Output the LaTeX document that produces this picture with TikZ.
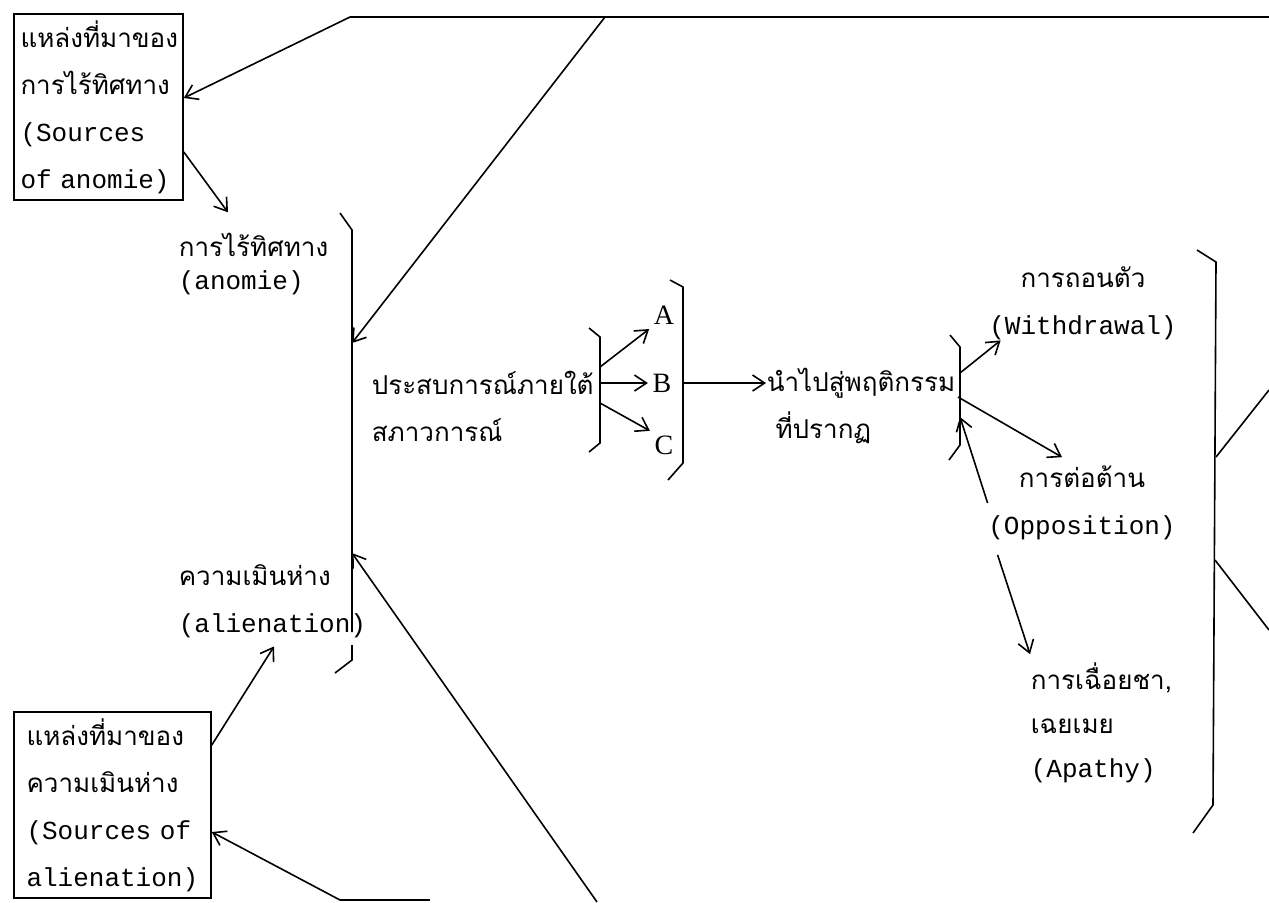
\documentclass[tikz,border=0pt]{standalone}
\usepackage{fontspec}
\setmainfont{Liberation Mono}
\newfontfamily\thai[Script=Thai]{Loma}
\newfontfamily\abcfont{Liberation Serif}
\usetikzlibrary{arrows.meta}
\begin{document}
\begin{tikzpicture}[x=0.5pt,y=-0.5pt,thick,>={Straight Barb[length=6pt,width=8pt]},
    txt/.style={inner sep=0pt,align=left,font=\fontsize{13}{23.5}\selectfont},
    srcbox/.style={txt,draw,minimum height=93pt},
    abc/.style={inner sep=2pt,font=\abcfont\fontsize{14}{16}\selectfont}]
    \useasboundingbox (0,0) rectangle (1269,902);
    \node[srcbox,minimum width=84.5pt,text width=78pt] (srcA) at (98.5,107){{\thai แหล่งที่มาของ}\\{\thai การไร้ทิศทาง}\\(Sources\\of anomie)};
    \node[srcbox,minimum width=98.5pt,text width=86pt] (srcL) at (112.5,805){{\thai แหล่งที่มาของ}\\{\thai ความเมินห่าง}\\(Sources of\\alienation)};
    \node[txt,anchor=west,font=\fontsize{13}{16.5}\selectfont] (anomie) at (178,264){{\thai การไร้ทิศทาง}\\(anomie)};
    \node[txt,anchor=west] (alien) at (178,601){{\thai ความเมินห่าง}\\(alienation)};
    \node[txt,anchor=west] (exper) at (371,406){{\thai ประสบการณ์ภายใต้}\\{\thai สภาวการณ์}};
    \node[abc] (optA) at (664,315){A};
    \node[abc] (optB) at (662,383){B};
    \node[abc] (optC) at (664,445){C};
    \node[txt,anchor=west] (lead) at (766,406){{\thai นำไปสู่พฤติกรรม}\\{\thai\ ที่ปรากฏ}};
    \node[txt,align=center] (withdr) at (1083,303){{\thai การถอนตัว}\\(Withdrawal)};
    \node[txt,align=center] (oppos) at (1082,503){{\thai การต่อต้าน}\\(Opposition)};
    \node[txt,anchor=west,font=\fontsize{13}{22}\selectfont] (apathy) at (1030,723){{\thai การเฉื่อยชา,}\\{\thai เฉยเมย}\\(Apathy)};
    \draw(340,213)--(352,230)--(352,632) (352,645)--(352,660)--(335,673);
    \draw(589,328)--(600,337)--(600,443)--(589,452);
    \draw(670,280)--(683,287)--(683,463)--(668,480);
    \draw(950,335)--(960,347)--(960,445)--(949,460);
    \draw(1197,250)--(1216,262)--(1213,805)--(1193,833);
    \coordinate (topL) at (350,17);
    \coordinate (topM) at (605,17);
    \coordinate (topR) at (1269,17);
    \coordinate (botL) at (340,900);
    \coordinate (botM) at (597,902);
    \coordinate (botR) at (430,900);
    \coordinate (anoIn) at (352,343);
    \coordinate (alIn) at (352,553);
    \coordinate (expA) at (600,367);
    \coordinate (expB) at (600,383);
    \coordinate (expC) at (600,403);
    \coordinate (abcOut) at (683,383);
    \coordinate (ldW) at (960,373);
    \coordinate (ldO) at (958,397);
    \coordinate (ldIn) at (960,417);
    \draw(topR)--(topL);
    \draw[->](topL)--([yshift=4.5pt]srcA.east);
    \draw[->](topM)--(anoIn);
    \draw[->]([yshift=-22.5pt]srcA.east)--([xshift=25pt,yshift=10pt]anomie.north west);
    \draw[->]([yshift=30pt]srcL.east)--([xshift=48pt,yshift=-4pt]alien.south west);
    \draw(botR)--(botL);
    \draw[->](botL)--([yshift=-13.5pt]srcL.east);
    \draw[->](botM)--(alIn);
    \draw[->](expA)--(optA.south west);
    \draw[->](expB)--(optB.west);
    \draw[->](expC)--(optC.north west);
    \draw[->](abcOut)--(abcOut-|lead.west);
    \draw[->](ldW)--([xshift=6pt]withdr.south west);
    \draw[->](ldO)--([xshift=-10pt,yshift=4pt]oppos.north);
    \draw[->](oppos.west)--(ldIn);
    \draw[->]([xshift=5pt,yshift=-7pt]oppos.south west)--([yshift=4pt]apathy.north west);
    \draw(1216,457)--(1269,390);
    \draw(1215,560)--(1269,630);
\end{tikzpicture}
\end{document}
